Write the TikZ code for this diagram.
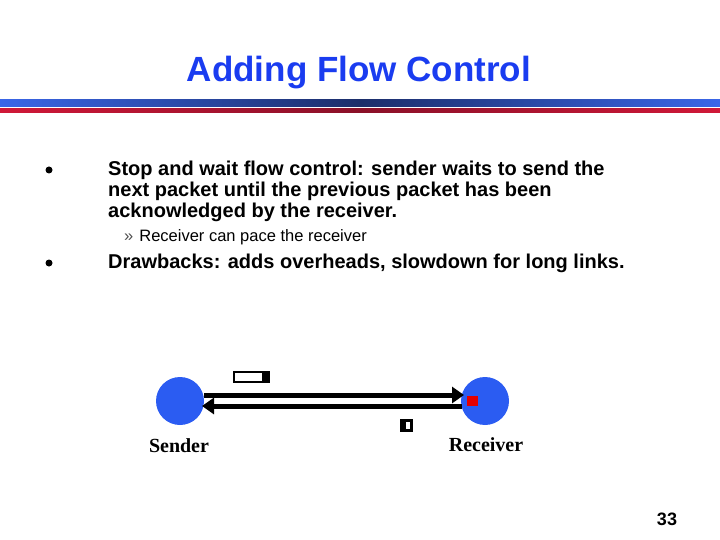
\documentclass[tikz,border=0pt]{standalone}
\usepackage{fontspec}
\setmainfont{Liberation Sans}
\newfontfamily\serifx{Liberation Serif}
\usetikzlibrary{arrows.meta}
\definecolor{ttl}{HTML}{1A3CF0}
\definecolor{nodeblue}{HTML}{2B5CF2}
\definecolor{bandend}{HTML}{3A66E8}
\definecolor{bandmid}{HTML}{1C2E6A}
\definecolor{redend}{HTML}{D01838}
\definecolor{redmid}{HTML}{8A1028}
\begin{document}
\begin{tikzpicture}[x=1pt,y=-1pt,
  txt/.style={anchor=west,inner sep=0,font=\bfseries\fontsize{20}{24}\selectfont},
  bul/.style={circle,fill=black,inner sep=0,minimum size=7pt},
  station/.style={circle,fill=nodeblue,minimum size=48pt,inner sep=0},
  link/.style={line width=5pt,-{Triangle[length=12pt,width=16pt]}}]
\useasboundingbox (0,0) rectangle (720,540);
\node[font=\bfseries\fontsize{35}{40}\selectfont,text=ttl] (title) at (359,73) {Adding Flow Control};
\shade[left color=bandend,right color=bandmid] (0,100) rectangle (360,107);
\shade[left color=bandmid,right color=bandend] (360,100) rectangle (720,107);
\shade[left color=redend,right color=redmid] (0,109) rectangle (360,113);
\shade[left color=redmid,right color=redend] (360,109) rectangle (720,113);
\node[bul] (b1) at (49,170) {};
\node[txt] (t1a) at (108,170) {Stop and wait flow control: sender waits to send the};
\node[txt] (t1b) at (108,191) {next packet until the previous packet has been};
\node[txt] (t1c) at (108,212) {acknowledged by the receiver.};
\node[anchor=west,inner sep=0,font=\fontsize{16.5}{19}\selectfont] (s1) at (124,237) {\textcolor{black!70}{»}\hspace{6pt}Receiver can pace the receiver};
\node[bul] (b2) at (49,263) {};
\node[txt] (t2) at (108,263) {Drawbacks: adds overheads, slowdown for long links.};
\node[station] (snd) at (180,401) {};
\node[station] (rcv) at (485,401) {};
\fill[red!90!black] (467,396) rectangle (478,406);
\coordinate (a1) at (204,395); \coordinate (a2) at (464,395);
\coordinate (c1) at (462,406); \coordinate (c2) at (202,406);
\draw[link] (a1) -- (a2);
\draw[link] (c1) -- (c2);
\draw[line width=2pt] (234,372) rectangle (269,382);
\fill (262,371) rectangle (270,383);
\fill (400,419) rectangle (413,432);
\fill[white] (406,422) rectangle (410,429);
\node[font=\serifx\bfseries\fontsize{20}{24}\selectfont] (ls) at (179,446) {Sender};
\node[font=\serifx\bfseries\fontsize{20}{24}\selectfont] (lr) at (486,445) {Receiver};
\node[font=\bfseries\fontsize{18}{21}\selectfont] (pg) at (667,519) {33};
\end{tikzpicture}
\end{document}
